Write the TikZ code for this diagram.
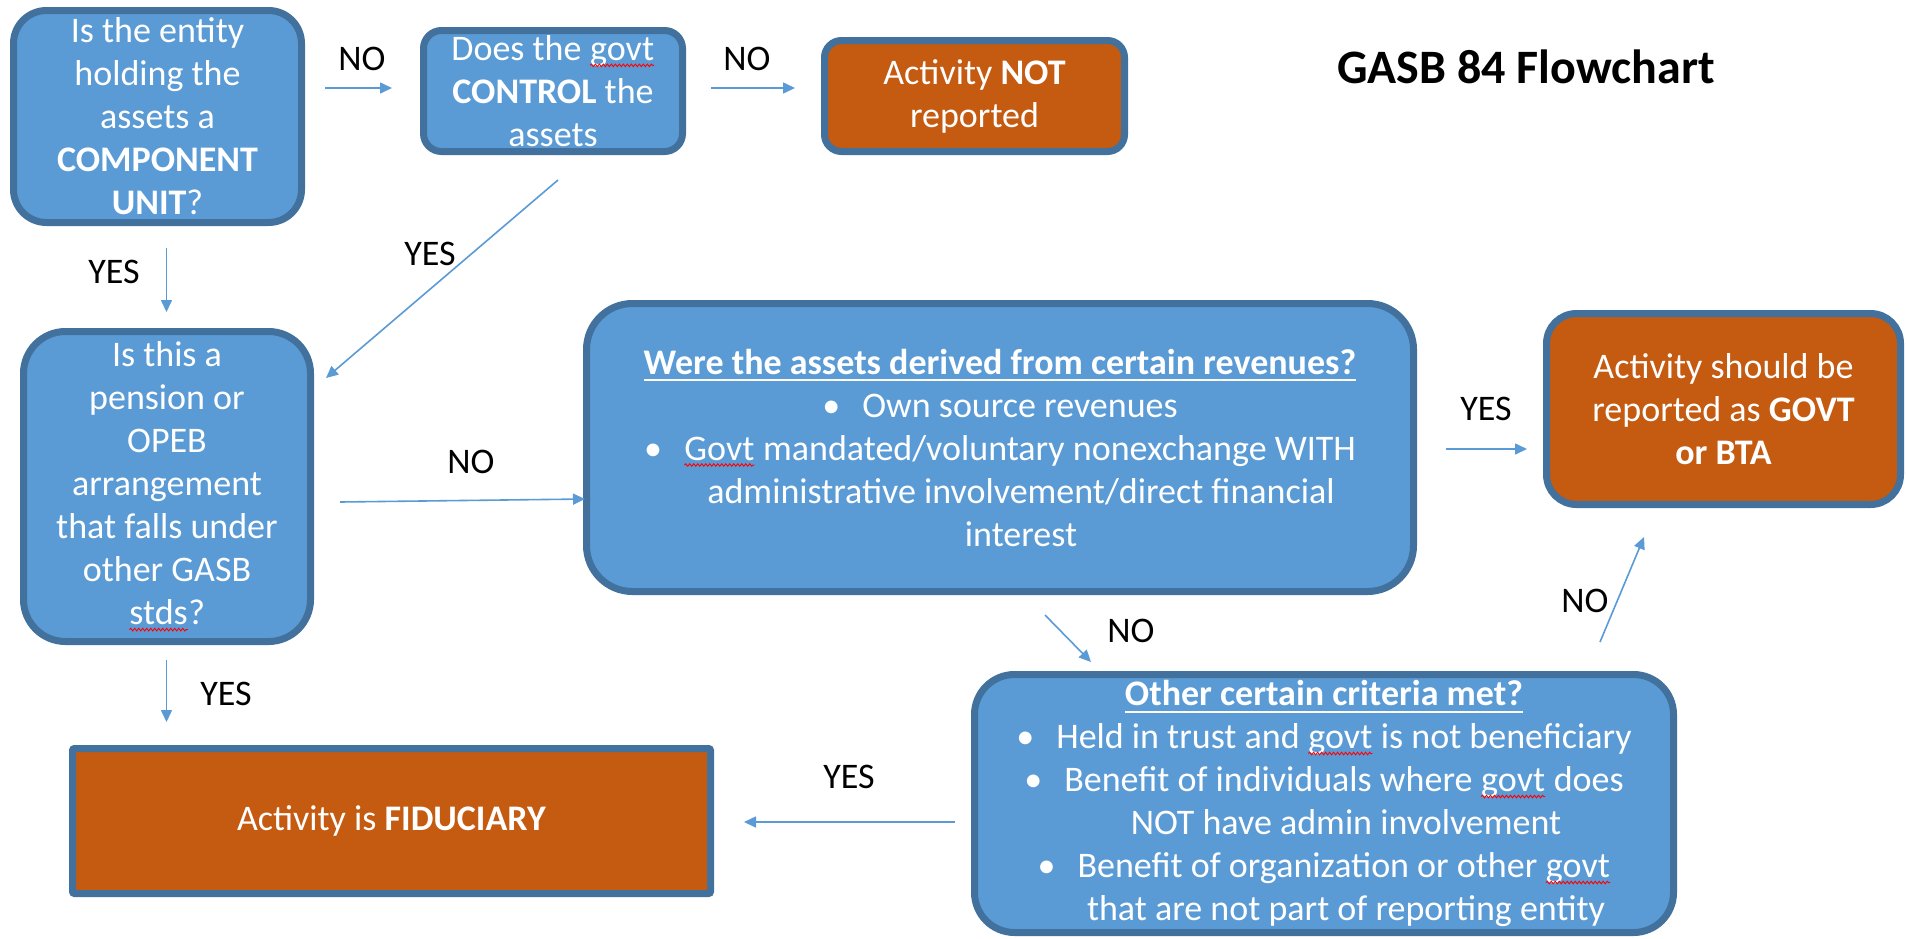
\documentclass[tikz,border=0pt]{standalone}
\usepackage{fontspec}
\setmainfont{Carlito}
\usetikzlibrary{arrows.meta,decorations.pathmorphing}
\definecolor{fillblue}{HTML}{5B9BD5}
\definecolor{edgeblue}{HTML}{41719C}
\definecolor{fillorange}{HTML}{C55A11}
\definecolor{arrowblue}{HTML}{5B9BD5}
\newcommand\sq[1]{\tikz[baseline=(w.base)]{\node[inner sep=0pt,outer sep=0pt,draw=none,fill=none,
   minimum width=0pt,minimum height=0pt,sharp corners,text=white](w){#1};
  \draw[red,line width=0.9pt,sharp corners,decorate,decoration={snake,amplitude=1.3pt,segment length=4pt}]
  ([yshift=-5pt]w.base west)--([yshift=-5pt]w.base east);}}
\newcommand\bl{\makebox[40pt][l]{•}}
\newcommand\hdr[1]{\setbox0\hbox{\bfseries #1}\rlap{\rule[-7pt]{\wd0}{2pt}}\box0}
\newcommand\bigtxt{\fontsize{36}{43}\selectfont}
\tikzset{
  box/.style={draw=edgeblue, line width=7pt, fill=fillblue, text=white, align=center,
              inner sep=0pt, font=\bigtxt},
  obox/.style={box, fill=fillorange},
  lbl/.style={font=\bigtxt, anchor=base, inner sep=0pt, text=black},
  arr/.style={draw=arrowblue, line width=1.6pt, -{Triangle[length=12pt,width=11pt]}},
}
\begin{document}
\begin{tikzpicture}[x=1pt,y=-1pt]
\useasboundingbox[fill=white] (0,0) rectangle (1907,938);

% boxes
\node[box, minimum width=288pt, minimum height=212pt, rounded corners=33pt] (cu) at (157.5,116.5)
  {Is the entity\\holding the\\assets a\\\textbf{COMPONENT}\\\textbf{UNIT}?};
\node[box, minimum width=259pt, minimum height=121pt, rounded corners=18pt] (ctrl) at (553,91)
  {Does the \sq{govt}\\\textbf{CONTROL} the\\assets};
\node[obox, minimum width=300pt, minimum height=111pt, rounded corners=17pt] (notrep) at (974.5,96)
  {Activity \textbf{NOT}\\reported};
\node[box, minimum width=287pt, minimum height=310pt, rounded corners=42pt] (pension) at (167,486.5)
  {Is this a\\pension or\\OPEB\\arrangement\\that falls under\\other GASB\\\sq{stds}?};
\node[box, minimum width=827pt, minimum height=288pt, rounded corners=46pt] (derived) at (1000,447.5)
  {\hdr{Were the assets derived from certain revenues?}\\
   \bl Own source revenues\\
   \bl \sq{Govt} mandated/voluntary nonexchange WITH\\
   \hspace*{42pt}administrative involvement/direct financial\\
   \hspace*{42pt}interest};
\node[obox, minimum width=354pt, minimum height=191pt, rounded corners=30pt] (govt) at (1723.5,409)
  {Activity should be\\reported as \textbf{GOVT}\\\textbf{or BTA}};
\node[obox, minimum width=638pt, minimum height=145pt, rounded corners=2pt] (fid) at (391.5,821)
  {Activity is \textbf{FIDUCIARY}};
\node[box, minimum width=699pt, minimum height=258pt, rounded corners=40pt] (other) at (1324,803.5)
  {\hdr{Other certain criteria met?}\\
   \bl Held in trust and \sq{govt} is not beneficiary\\
   \bl Benefit of individuals where \sq{govt} does\\
   \hspace*{44pt}NOT have admin involvement\\
   \bl Benefit of organization or other \sq{govt}\\
   \hspace*{44pt}that are not part of reporting entity};

% title
\node[font=\fontsize{48}{58}\selectfont\bfseries, anchor=base, inner sep=0pt] (title) at (1526,83) {GASB 84 Flowchart};

% connector end points
\coordinate (a1s) at (325,88);    \coordinate (a1e) at (392,88);
\coordinate (a2s) at (711,88);    \coordinate (a2e) at (795,88);
\coordinate (a3s) at (166.5,248); \coordinate (a3e) at (166.5,312);
\coordinate (a4s) at (558,180);   \coordinate (a4e) at (326,378);
\coordinate (a5s) at (340,502);   \coordinate (a5e) at (585,499);
\coordinate (a6s) at (1445.5,449);\coordinate (a6e) at (1527,449);
\coordinate (a7s) at (1045,615);  \coordinate (a7e) at (1091,662);
\coordinate (a8s) at (1600,642);  \coordinate (a8e) at (1644,537);
\coordinate (a9s) at (166.5,660); \coordinate (a9e) at (166.5,722);
\coordinate (a10s) at (955,822);  \coordinate (a10e) at (744,822);

\draw[arr] (a1s) -- (a1e);
\draw[arr] (a2s) -- (a2e);
\draw[arr] (a3s) -- (a3e);
\draw[arr] (a4s) -- (a4e);
\draw[arr] (a5s) -- (a5e);
\draw[arr] (a6s) -- (a6e);
\draw[arr] (a7s) -- (a7e);
\draw[arr] (a8s) -- (a8e);
\draw[arr] (a9s) -- (a9e);
\draw[arr] (a10s) -- (a10e);

% labels
\node[lbl] (l1) at (362,70) {NO};
\node[lbl] (l2) at (747,70) {NO};
\node[lbl] (l3) at (114,283) {YES};
\node[lbl] (l4) at (430,265) {YES};
\node[lbl] (l5) at (471,473) {NO};
\node[lbl] (l6) at (1486,420) {YES};
\node[lbl] (l7) at (1131,642) {NO};
\node[lbl] (l8) at (1585,612) {NO};
\node[lbl] (l9) at (226,705) {YES};
\node[lbl] (l10) at (849,788) {YES};
\end{tikzpicture}
\end{document}
